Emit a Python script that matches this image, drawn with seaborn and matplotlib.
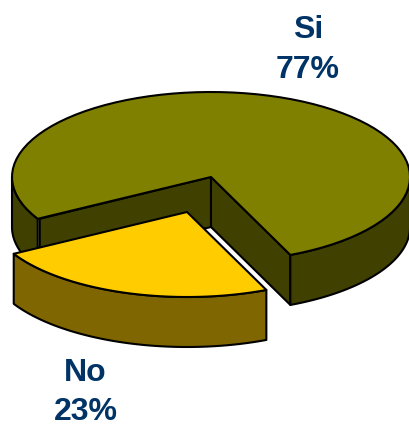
# grafico de torta 3D (Si / No)
import numpy as np
import matplotlib
matplotlib.use("Agg")
import matplotlib.pyplot as plt
import seaborn as sns
from matplotlib.patches import Polygon

categorias = ["Si", "No"]
valores = [77, 23]
colores_top = ["#808000", "#FFCC00"]
colores_lado = ["#404000", "#806600"]
color_texto = "#003366"

sns.set_theme(style="white")
plt.rcParams['font.family'] = ['Liberation Sans', 'DejaVu Sans']

# Geometria de la torta en pixeles
cx, cy = 211, 178
rx, ry = 199, 85
alto = 50
inicio = 66.5  # angulo donde empieza el trozo "No"
ajuste = 1.015  # la perspectiva abre un poco el angulo del trozo
sep_x, sep_y = -24, 35  # desplazamiento del trozo separado
lw = 1.5


def arco(a1, a2, dx=0, dy=0):
    t = np.radians(np.linspace(a1, a2, 80))
    return np.column_stack([cx + dx + rx * np.cos(t), cy + dy + ry * np.sin(t)])


def pared(puntos, col, ax, z=1):
    bajo = puntos[::-1] + [0, alto]
    ax.add_patch(Polygon(np.vstack([puntos, bajo]), closed=True, fc=col, ec="black",
                         lw=lw, joinstyle="round", zorder=z))


fig, ax = plt.subplots(figsize=(4.10, 4.27), dpi=100)
fig.subplots_adjust(0, 0, 1, 1)
ax.set_xlim(0, 410)
ax.set_ylim(427, 0)
ax.axis("off")

fin = inicio + valores[1] / sum(valores) * 360 * ajuste
apice = np.array([[cx, cy]])

# Trozo Si: paredes interiores, borde exterior y cara superior
p_izq = arco(fin, fin)[:1]
p_der = arco(inicio, inicio)[:1]
pared(np.vstack([apice, p_izq + [2, 0]]), colores_lado[0], ax)
pared(np.vstack([apice, p_der]), colores_lado[0], ax)
pared(arco(fin, 180), colores_lado[0], ax)
pared(arco(0, inicio), colores_lado[0], ax)
borde = arco(fin, inicio + 360)
ax.add_patch(Polygon(np.vstack([apice, borde]), closed=True, fc=colores_top[0], ec="black",
                     lw=lw, joinstyle="round", zorder=2))

# Trozo No separado
borde_no = arco(inicio, fin, sep_x, sep_y)
pared(borde_no, colores_lado[1], ax, z=3)
ax.add_patch(Polygon(np.vstack([apice + [sep_x, sep_y], borde_no]), closed=True, fc=colores_top[1],
                     ec="black", lw=lw, joinstyle="round", zorder=4))

# Etiquetas
pos_etiquetas = [(308, 50), (85.5, 392.5)]
for cat, val, (x, y) in zip(categorias, valores, pos_etiquetas):
    ax.text(x, y, f"{cat}\n{val}%", ha="center", va="center", color=color_texto,
            fontsize=23, fontweight="bold", linespacing=1.42)

fig.savefig("out.png", dpi=100)
